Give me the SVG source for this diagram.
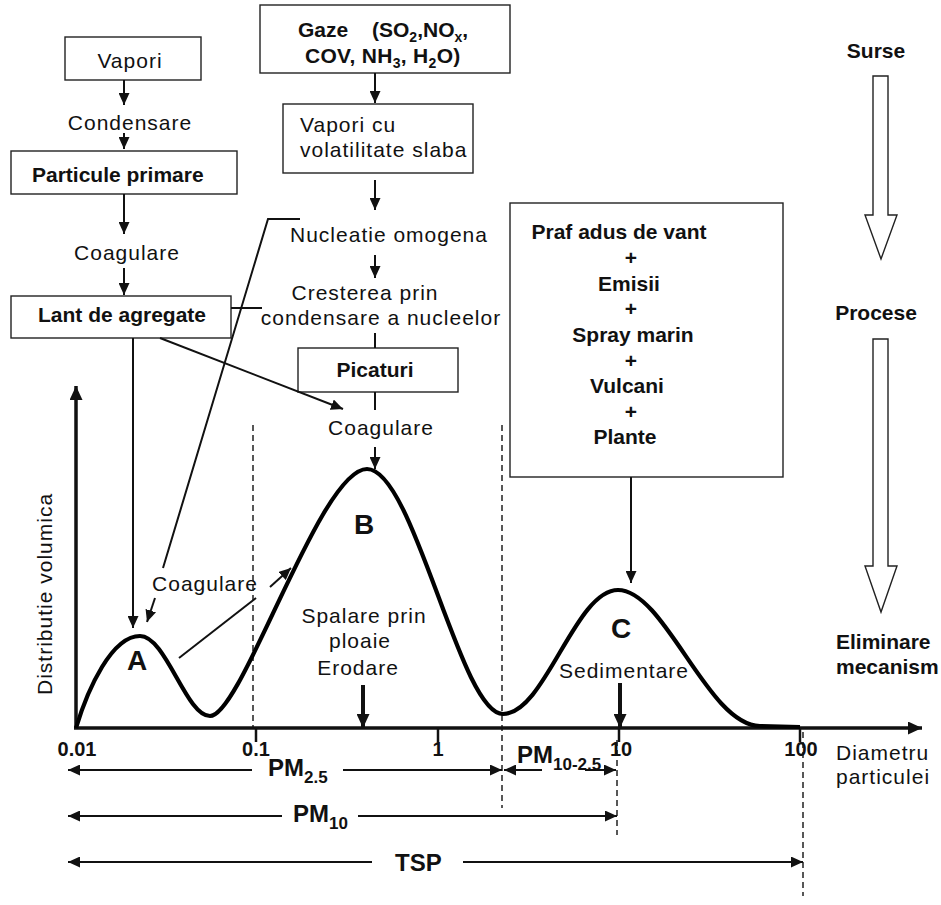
<svg xmlns="http://www.w3.org/2000/svg" width="941" height="905" viewBox="0 0 941 905">
<style>
.t{font-family:"Liberation Sans",Arial,sans-serif;font-size:21px;letter-spacing:1px;fill:#111}
.b{font-family:"Liberation Sans",Arial,sans-serif;font-size:21px;font-weight:bold;fill:#111}
.n{font-family:"Liberation Sans",Arial,sans-serif;font-size:20px;font-weight:bold;fill:#111}
.pm{font-family:"Liberation Sans",Arial,sans-serif;font-size:24px;font-weight:bold;fill:#111}
.big{font-family:"Liberation Sans",Arial,sans-serif;font-size:28px;font-weight:bold;fill:#111}
.box{fill:#fff;stroke:#222;stroke-width:1.4}
.ln{stroke:#111;stroke-width:2;fill:none}
.dash{stroke:#111;stroke-width:1.4;stroke-dasharray:6 4;fill:none}
.hol{fill:#fff;stroke:#222;stroke-width:1.4}
</style>
<defs>
<marker id="ah" markerUnits="userSpaceOnUse" markerWidth="12" markerHeight="11" refX="12" refY="5.5" orient="auto"><path d="M0,0 L12,5.5 L0,11 z" fill="#111"/></marker>
<marker id="ahb" markerUnits="userSpaceOnUse" markerWidth="14" markerHeight="13" refX="14" refY="6.5" orient="auto"><path d="M0,0 L14,6.5 L0,13 z" fill="#111"/></marker>
</defs>

<!-- axes & curve -->
<g id="axes">
<line x1="76" y1="728" x2="76" y2="386" stroke="#111" stroke-width="3.5" marker-end="url(#ahb)"/>
<line x1="74" y1="728" x2="922" y2="728" stroke="#111" stroke-width="3.5" marker-end="url(#ahb)"/>
<line x1="256" y1="728" x2="256" y2="742" stroke="#111" stroke-width="2.5"/>
<line x1="438" y1="728" x2="438" y2="742" stroke="#111" stroke-width="2.5"/>
<line x1="619" y1="728" x2="619" y2="742" stroke="#111" stroke-width="2.5"/>
<line x1="800" y1="728" x2="800" y2="742" stroke="#111" stroke-width="2.5"/>
<line class="dash" x1="253" y1="425" x2="253" y2="728"/>
<line class="dash" x1="502" y1="425" x2="502" y2="808"/>
<line class="dash" x1="617" y1="740" x2="617" y2="835"/>
<line class="dash" x1="803" y1="732" x2="803" y2="896"/>
<text class="t" transform="translate(52,695) rotate(-90)">Distributie volumica</text>
<text class="n" x="77" y="756" text-anchor="middle">0.01</text>
<text class="n" x="256" y="756" text-anchor="middle">0.1</text>
<text class="n" x="438" y="756" text-anchor="middle">1</text>
<text class="n" x="621" y="756" text-anchor="middle">10</text>
<text class="n" x="801" y="756" text-anchor="middle">100</text>
<text class="t" x="836" y="760">Diametru</text>
<text class="t" x="836" y="784">particulei</text>
</g>

<g id="curve">
<path d="M76,728 C88,688 112,636 140,636 C166,636 186,716 210,716 C242,716 320,469 367,469 C414,469 460,714 503,714 C545,714 575,590 618,590 C665,590 708,726 760,726 L800,727" fill="none" stroke="#000" stroke-width="4.2" stroke-linejoin="round"/>
<text class="big" x="137" y="670" text-anchor="middle">A</text>
<text class="big" x="364" y="534" text-anchor="middle">B</text>
<text class="big" x="621" y="638" text-anchor="middle">C</text>
</g>

<!-- left chain -->
<g id="vapori"><rect class="box" x="65" y="37" width="136" height="43"/><text class="t" x="130" y="68" text-anchor="middle">Vapori</text></g>
<g id="condensare"><text class="t" x="130" y="130" text-anchor="middle">Condensare</text></g>
<g id="particule"><rect class="box" x="11" y="151" width="226" height="43"/><text class="b" x="32" y="182">Particule primare</text></g>
<g id="coag1"><text class="t" x="127" y="260" text-anchor="middle">Coagulare</text></g>
<g id="lant"><rect class="box" x="11" y="296" width="220" height="42"/><text class="b" x="38" y="322">Lant de agregate</text></g>

<!-- middle chain -->
<g id="gaze"><rect class="box" x="260" y="5" width="250" height="68"/>
<text class="b" x="298" y="37">Gaze</text>
<text class="b" x="372" y="37">(SO<tspan font-size="14" dy="5">2</tspan><tspan dy="-5">,NO</tspan><tspan font-size="14" dy="5">x</tspan><tspan dy="-5">,</tspan></text>
<text class="b" x="305" y="63" letter-spacing="0.3">COV, NH<tspan font-size="14" dy="5">3</tspan><tspan dy="-5">, H</tspan><tspan font-size="14" dy="5">2</tspan><tspan dy="-5">O)</tspan></text>
</g>
<g id="vaporicu"><rect class="box" x="283" y="104" width="190" height="69"/>
<text class="t" x="300" y="132">Vapori cu</text><text class="t" x="300" y="157">volatilitate slaba</text></g>
<g id="nucleatie"><text class="t" x="389" y="242" text-anchor="middle">Nucleatie omogena</text></g>
<g id="crestere"><text class="t" x="365" y="300" text-anchor="middle">Cresterea prin</text><text class="t" x="381" y="325" text-anchor="middle">condensare a nucleelor</text></g>
<g id="picaturi"><rect class="box" x="298" y="348" width="160" height="44"/><text class="b" x="375" y="377" text-anchor="middle">Picaturi</text></g>
<g id="coag2"><text class="t" x="381" y="435" text-anchor="middle">Coagulare</text></g>

<!-- sources box -->
<g id="surse-box"><rect class="box" x="510" y="203" width="273" height="274"/>
<text class="b" x="619" y="239" text-anchor="middle">Praf adus de vant</text>
<text class="b" x="631" y="265" text-anchor="middle">+</text>
<text class="b" x="629" y="291" text-anchor="middle">Emisii</text>
<text class="b" x="631" y="316" text-anchor="middle">+</text>
<text class="b" x="633" y="342" text-anchor="middle">Spray marin</text>
<text class="b" x="631" y="368" text-anchor="middle">+</text>
<text class="b" x="627" y="393" text-anchor="middle">Vulcani</text>
<text class="b" x="631" y="419" text-anchor="middle">+</text>
<text class="b" x="625" y="444" text-anchor="middle">Plante</text>
</g>

<!-- labels in chart -->
<g id="coag3"><text class="t" x="205" y="591" text-anchor="middle">Coagulare</text></g>
<g id="spalare"><text class="t" x="364" y="623" text-anchor="middle">Spalare prin</text><text class="t" x="360" y="648" text-anchor="middle">ploaie</text><text class="t" x="358" y="675" text-anchor="middle">Erodare</text></g>
<g id="sediment"><text class="t" x="624" y="678" text-anchor="middle">Sedimentare</text></g>

<!-- right column -->
<g id="legend">
<text class="b" x="876" y="58" text-anchor="middle">Surse</text>
<polygon class="hol" points="873,76 888,76 888,215 897,215 881,259 865,215 873,215"/>
<text class="b" x="876" y="320" text-anchor="middle">Procese</text>
<polygon class="hol" points="873,339 888,339 888,566 897,566 881,612 865,566 873,566"/>
<text class="b" x="836" y="649">Eliminare</text>
<text class="b" x="836" y="674">mecanism</text>
</g>

<!-- PM ranges -->
<g id="ranges">
<line class="ln" x1="252" y1="770" x2="68" y2="770" marker-end="url(#ah)"/>
<text class="pm" x="268" y="776">PM<tspan font-size="17" dy="7">2.5</tspan></text>
<line class="ln" x1="343" y1="770" x2="502" y2="770" marker-end="url(#ah)"/>
<line class="ln" x1="542" y1="770" x2="504" y2="770" marker-end="url(#ah)"/>
<text class="pm" x="517" y="763">PM<tspan font-size="17" dy="7">10-2.5</tspan></text>
<line class="ln" x1="585" y1="770" x2="616" y2="770" marker-end="url(#ah)"/>
<line class="ln" x1="282" y1="816" x2="68" y2="816" marker-end="url(#ah)"/>
<text class="pm" x="293" y="822">PM<tspan font-size="17" dy="7">10</tspan></text>
<line class="ln" x1="358" y1="816" x2="617" y2="816" marker-end="url(#ah)"/>
<line class="ln" x1="372" y1="862" x2="68" y2="862" marker-end="url(#ah)"/>
<text class="pm" x="395" y="871" font-size="25">TSP</text>
<line class="ln" x1="463" y1="862" x2="803" y2="862" marker-end="url(#ah)"/>
</g>

<!-- connectors -->
<g id="connectors">
<line class="ln" x1="124" y1="80" x2="124" y2="105" marker-end="url(#ah)"/>
<line class="ln" x1="124" y1="133" x2="124" y2="149" marker-end="url(#ah)"/>
<line class="ln" x1="124" y1="194" x2="124" y2="234" marker-end="url(#ah)"/>
<line class="ln" x1="124" y1="268" x2="124" y2="295" marker-end="url(#ah)"/>
<line class="ln" x1="375" y1="73" x2="375" y2="103" marker-end="url(#ah)"/>
<line class="ln" x1="375" y1="180" x2="375" y2="210" marker-end="url(#ah)"/>
<line class="ln" x1="375" y1="255" x2="375" y2="278" marker-end="url(#ah)"/>
<line class="ln" x1="375" y1="333" x2="375" y2="348"/>
<line class="ln" x1="375" y1="392" x2="375" y2="410"/>
<line class="ln" x1="375" y1="447" x2="375" y2="469" marker-end="url(#ah)"/>
<line class="ln" x1="160" y1="338" x2="343" y2="409" marker-end="url(#ah)"/>
<line class="ln" x1="133" y1="338" x2="133" y2="628" marker-end="url(#ah)"/>
<line class="ln" x1="231" y1="308" x2="262" y2="308"/>
<polyline class="ln" points="300,219 268,219 163,568"/>
<line class="ln" x1="155" y1="598" x2="147" y2="622" marker-end="url(#ah)"/>
<line class="ln" x1="179" y1="658" x2="256" y2="598"/>
<line class="ln" x1="270" y1="587" x2="291" y2="568" marker-end="url(#ah)"/>
<line class="ln" x1="631" y1="477" x2="631" y2="583" marker-end="url(#ah)"/>
<line x1="363" y1="685" x2="363" y2="728" stroke="#111" stroke-width="4" marker-end="url(#ahb)"/>
<line x1="620" y1="683" x2="620" y2="728" stroke="#111" stroke-width="4" marker-end="url(#ahb)"/>
</g>
</svg>
